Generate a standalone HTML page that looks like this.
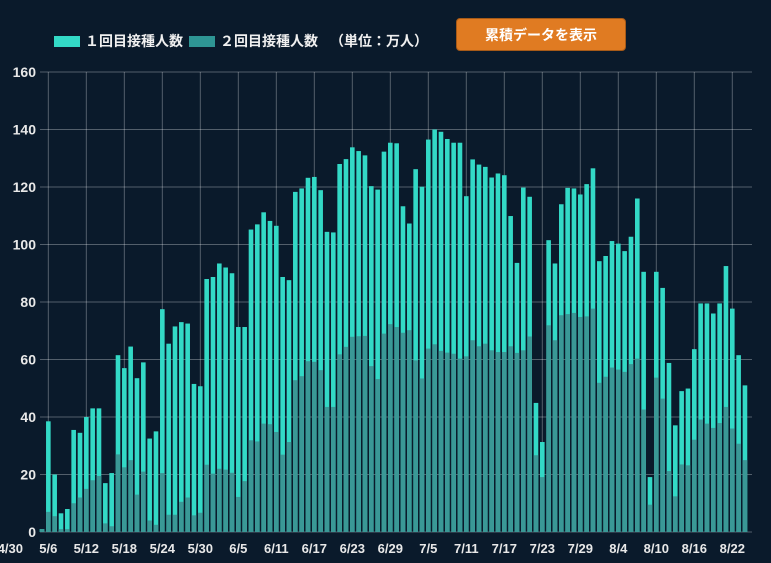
<!DOCTYPE html>
<html><head><meta charset="utf-8">
<style>
html,body{margin:0;padding:0;background:#0a1a2b;}
body{width:771px;height:563px;overflow:hidden;position:relative;font-family:"Liberation Sans","Noto Sans CJK JP",sans-serif;}
#legend{position:absolute;left:54px;top:31px;display:flex;align-items:center;color:#f0f0f0;font-size:14px;font-weight:bold;}
.sw{display:inline-block;width:26px;height:11px;margin-right:5px;}
.lt{margin-right:6px;}
#btn{position:absolute;left:456px;top:18px;width:170px;height:33px;background:#e07b22;border:1px solid #a65a18;border-radius:4px;color:#fff;font-weight:bold;font-size:14px;text-align:center;line-height:33px;box-sizing:border-box;}
svg{position:absolute;left:0;top:0;}
</style></head><body>
<div id="legend">
  <span class="sw" style="background:#33d9c6"></span><span class="lt">１回目接種人数</span>
  <span class="sw" style="background:#2e9594"></span><span class="lt">２回目接種人数</span>
  <span style="margin-left:6px">（単位：万人）</span>
</div>
<div id="btn">累積データを表示</div>
<svg id="chart" width="771" height="563"></svg>
<script>
const startMonth = 5, startDay = 5;
const dose1 = [1,38.5,20,6.5,8,35.5,34.5,40,43,43,17,20.5,61.5,57,64.5,53.5,59,32.5,35,77.5,65.5,71.5,73,72.5,51.5,50.7,88,
88.7,93.4,92,90,71.3,71.3,105.2,107,111.2,108.2,106.5,88.7,87.6,118.3,119.5,123.2,123.5,118.9,104.4,104.2,128,129.7,133.8,132.5,131,120.3,119.1,132.3,135.4,135.2,
113.3,107.3,126.2,120.1,136.5,140,139.2,136.7,135.4,135.4,116.8,129.6,127.8,127,123.3,124.7,124.1,109.9,93.6,119.8,116.6,44.9,31.3,101.5,93.4,114,119.7,119.5,117.4,121,126.5,
94.2,96,101.2,100.3,97.7,102.7,116,90.5,19.1,90.5,84.9,58.8,37.1,49,49.9,63.6,79.5,79.5,76,79.5,92.5,77.7,61.5,51];
const dose2 = [1,7,5.5,1,1,10,12,15,18,19.5,3,2,27,22.5,25,13,21,4,2.5,20.5,6,6,10.5,12,5.8,6.7,23.4,
20.3,22,21.7,20.6,12.2,17.7,31.9,31.5,37.7,37.5,34.8,26.9,31.3,52.8,54.2,59.4,59.2,56.3,43.5,43.5,61.8,64.4,67.9,68.1,68.2,57.7,53.2,69,72.3,71.3,
69.3,70.2,59.7,53.4,63.8,65.3,63,62.4,62,60.3,61.1,66.7,64.6,65.5,63.2,62.6,62.6,64.6,62.3,63.2,68,26.7,19.1,71.9,66.7,75.4,75.8,76.2,74.8,75,77.7,
51.9,54,57.2,56.5,55.7,58.4,60.3,42.6,9.5,53.7,46.4,21.2,12.4,23.5,23.2,32.1,39.1,37.7,36.2,37.9,43.5,36,30.7,25];
const yTicks = [0,20,40,60,80,100,120,140,160];
const xTickLabels = ["4/30","5/6","5/12","5/18","5/24","5/30","6/5","6/11","6/17","6/23","6/29","7/5","7/11","7/17","7/23","7/29","8/4","8/10","8/16","8/22"];

const NS="http://www.w3.org/2000/svg";
const svg=document.getElementById('chart');
const L=40,R=752,T=72,B=532,YMAX=160;
const dayW=6.333, x0=42.0; // center of first bar (day index 0)
function y(v){return B-(v/YMAX)*(B-T);}
function x(i){return x0+i*dayW;}
function mk(tag,a){const e=document.createElementNS(NS,tag);for(const k in a)e.setAttribute(k,a[k]);svg.appendChild(e);return e;}
function dayIndexOf(lbl){const [m,d]=lbl.split('/').map(Number);const t=new Date(2021,m-1,d),s=new Date(2021,startMonth-1,startDay);return Math.round((t-s)/86400000);}

yTicks.forEach(v=>{
  const g=mk('line',{x1:L,x2:R,y1:y(v),y2:y(v),stroke:'rgba(255,255,255,0.3)','stroke-width':1});
  
  
  const t=mk('text',{x:36,y:y(v)+5,'text-anchor':'end',fill:'#e8e8e8','font-size':14,'font-weight':'bold'});
  t.textContent=v;
  
  
});
xTickLabels.forEach(l=>{
  const xi=x(dayIndexOf(l));
  if(xi>L){
    const g=mk('line',{x1:xi,x2:xi,y1:T,y2:B,stroke:'rgba(255,255,255,0.3)','stroke-width':1});
    
    
  }
  const t=mk('text',{x:xi,y:553,'text-anchor':'middle',fill:'#e8e8e8','font-size':13,'font-weight':'bold'});
  t.textContent=l;
  
  
});
const bw=4.6;
dose1.forEach((v,i)=>{
  const r=mk('rect',{x:x(i)-bw/2,y:y(v),width:bw,height:B-y(v),fill:'#33d9c6'});
  
  
});
dose2.forEach((v,i)=>{
  const r=mk('rect',{x:x(i)-bw/2,y:y(v),width:bw,height:B-y(v),fill:'#3a9896'});
  
  
});
</script>
</body></html>
